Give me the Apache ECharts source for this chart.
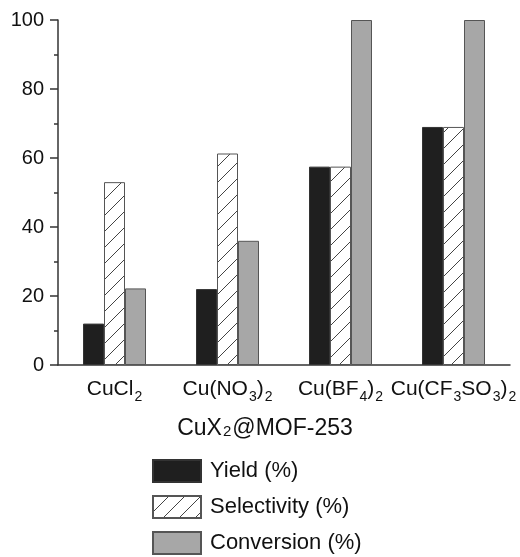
<!DOCTYPE html>
<html>
<head>
<meta charset="utf-8">
<script src="https://cdn.jsdelivr.net/npm/echarts@6/dist/echarts.min.js"></script>
<style>
html, body { margin: 0; padding: 0; background: #fff; }
#chart { width: 520px; height: 557px; }
</style>
</head>
<body>
<div id="chart"></div>
<script>
var categories = ['CuCl2', 'Cu(NO3)2', 'Cu(BF4)2', 'Cu(CF3SO3)2'];
var yieldVals = [12, 22, 57.5, 69];
var selectivityVals = [53, 61.3, 57.5, 69];
var conversionVals = [22.2, 36, 100, 100];
var yTicks = [0, 20, 40, 60, 80, 100];

// diagonal hatch tile
function hatch() {
    var c = document.createElement('canvas');
    c.width = 16;
    c.height = 16;
    var ctx = c.getContext('2d');
    ctx.fillStyle = '#fff';
    ctx.fillRect(0, 0, 16, 16);
    ctx.strokeStyle = '#444';
    ctx.lineWidth = 1;
    ctx.beginPath();
    ctx.moveTo(-2, 18);
    ctx.lineTo(18, -2);
    ctx.stroke();
    return c;
}

function subFmt(v) {
    return '{a|' + v.replace(/\d/g, function (d) { return '}{s|' + d + '}{a|'; }) + '}';
}

var fontFam = '"Liberation Sans", Arial, sans-serif';
var richSub = {
    a: { fontSize: 21, lineHeight: 21, verticalAlign: 'top', color: '#111', fontFamily: fontFam },
    s: { fontSize: 14, lineHeight: 14, padding: [11, 0, 0, 1], verticalAlign: 'top', color: '#111', fontFamily: fontFam }
};

var myChart = echarts.init(document.getElementById('chart'));
myChart.setOption({
    animation: false,
    grid: { left: 58, right: 10, top: 20, bottom: 192 },
    legend: {
        orient: 'vertical',
        left: 152,
        top: 459,
        height: 120,
        itemWidth: 48,
        itemHeight: 22,
        itemGap: 12,
        padding: 0,
        icon: 'rect',
        textStyle: { fontSize: 22, color: '#111', fontFamily: fontFam, padding: [0, 0, 0, 4] },
        data: ['Yield (%)', 'Selectivity (%)', 'Conversion (%)']
    },
    xAxis: {
        type: 'category',
        data: categories,
        name: subFmt('CuX2') + '{a|@MOF-253}',
        nameLocation: 'middle',
        nameGap: 52,
        nameTextStyle: {
            padding: [0, 38, 0, 0],
            rich: {
                a: { fontSize: 23, lineHeight: 24, verticalAlign: 'top', color: '#111', fontFamily: fontFam },
                s: { fontSize: 15, lineHeight: 15, padding: [7, 1, 0, 1], verticalAlign: 'top', color: '#111', fontFamily: fontFam }
            }
        },
        axisLine: { lineStyle: { color: '#333', width: 1.5 } },
        axisTick: { alignWithLabel: true, length: 6, lineStyle: { color: '#333', width: 1.5 } },
        axisLabel: {
            interval: 0,
            margin: 14,
            formatter: subFmt,
            rich: richSub
        },
        splitLine: { show: false }
    },
    yAxis: {
        type: 'value',
        min: 0,
        max: 100,
        interval: 20,
        axisLine: { show: true, lineStyle: { color: '#333', width: 1.5 } },
        axisTick: { show: true, length: 8, lineStyle: { color: '#333', width: 1.5 } },
        minorTick: { show: true, splitNumber: 2, length: 4, lineStyle: { color: '#333', width: 1.5 } },
        axisLabel: {
            margin: 14,
            fontSize: 20,
            color: '#111',
            fontFamily: fontFam,
            formatter: function (v) { return yTicks.indexOf(v) >= 0 ? String(v) : ''; }
        },
        splitLine: { show: false }
    },
    series: [{
        name: 'Yield (%)',
        type: 'bar',
        barWidth: 21,
        barGap: '0%',
        itemStyle: { color: '#1f1f1f', borderColor: '#333', borderWidth: 1 },
        data: yieldVals
    }, {
        name: 'Selectivity (%)',
        type: 'bar',
        barWidth: 21,
        barGap: '0%',
        itemStyle: { color: { image: hatch(), repeat: 'repeat' }, borderColor: '#555', borderWidth: 1 },
        data: selectivityVals
    }, {
        name: 'Conversion (%)',
        type: 'bar',
        barWidth: 21,
        barGap: '0%',
        itemStyle: { color: '#a7a7a7', borderColor: '#555', borderWidth: 1 },
        data: conversionVals
    }]
});
</script>
</body>
</html>
